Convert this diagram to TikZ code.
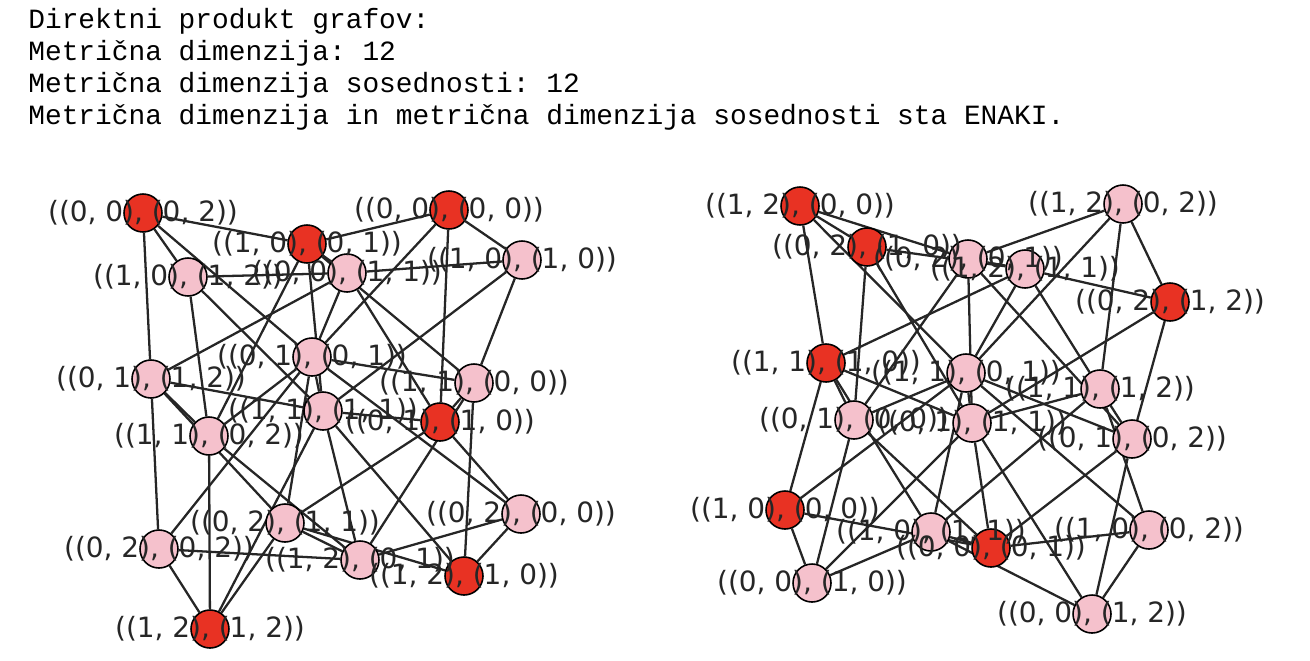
\documentclass[tikz,border=0pt]{standalone}
\usepackage{fontspec}
\setmainfont{DejaVu Sans}
\setmonofont{Liberation Mono}
\usetikzlibrary{backgrounds}

\pgfdeclarelayer{foreground}
\pgfsetlayers{background,main,foreground}

\definecolor{selred}{RGB}{232,50,35}
\definecolor{restpink}{RGB}{245,193,204}

\tikzset{
  vert/.style={circle, draw=black, line width=0.9pt, minimum size=0.76cm, inner sep=0pt},
  chosen/.style={vert, fill=selred},
  rest/.style={vert, fill=restpink},
  lbl/.style={inner sep=0pt, text=black!85, font=\fontsize{15.9}{18}\selectfont},
  link/.style={draw=black!85, line width=1.3pt},
  printline/.style={anchor=base west, inner sep=0pt, font=\ttfamily\fontsize{15.85}{18}\selectfont}
}

\begin{document}
\begin{tikzpicture}[x=0.02cm, y=-0.02cm]
\useasboundingbox (0,0) rectangle (1310,660);

% --- Izpis ---
\node[printline] (t1) at (28,28) {Direktni produkt grafov:};
\node[printline] (t2) at (28,60) {Metrična dimenzija: 12};
\node[printline] (t3) at (28,92) {Metrična dimenzija sosednosti: 12};
\node[printline] (t4) at (28,124) {Metrična dimenzija in metrična dimenzija sosednosti sta ENAKI.};

% --- Vozlisca (levo in desno) ---
\foreach \pa/\pb/\qa/\qb/\x/\y/\s in {
  0/0/0/2/143/213/chosen, 0/0/0/0/449/210/chosen, 1/0/0/1/307/244/chosen,
  1/0/1/2/188/277/rest,   0/0/1/1/347/273/rest,   1/0/1/0/522/260/rest,
  0/1/0/1/312/357/rest,   0/1/1/2/151/379/rest,   1/1/0/0/474/383/rest,
  1/1/1/1/323/411/rest,   0/1/1/0/440/422/chosen, 1/1/0/2/209/436/rest,
  0/2/0/0/521/514/rest,   0/2/1/1/285/523/rest,   0/2/0/2/159/549/rest,
  1/2/0/1/360/560/rest,   1/2/1/0/464/576/chosen, 1/2/1/2/210/629/chosen,
  1/2/0/0/800/206/chosen, 1/2/0/2/1123/204/rest,  0/2/1/0/867/247/chosen,
  0/2/0/1/968/259/rest,   1/2/1/1/1025/269/rest,  0/2/1/2/1170/302/chosen,
  1/1/1/0/826/363/chosen, 1/1/0/1/966/373/rest,   1/1/1/2/1100/389/rest,
  0/1/0/0/854/420/rest,   0/1/1/1/972/423/rest,   0/1/0/2/1132/439/rest,
  1/0/0/0/785/510/chosen, 1/0/1/1/931/532/rest,   0/0/0/1/991/548/chosen,
  1/0/0/2/1149/530/rest,  0/0/1/0/812/583/rest,   0/0/1/2/1092/614/rest}
{
  \node[\s] (v\pa\pb\qa\qb) at (\x,\y) {};
  \begin{pgfonlayer}{foreground}
    \node[lbl] (l\pa\pb\qa\qb) at (v\pa\pb\qa\qb) {((\pa, \pb), (\qa, \qb))};
  \end{pgfonlayer}
}

% --- Povezave: (u,v)--(u',v'), uu' in vv' sta povezavi ---
\begin{pgfonlayer}{background}
\foreach \ua/\un in {00/{01,10}, 02/{01,12}, 11/{01,10,12}}
  \foreach \ub in \un
    \foreach \va/\vn in {00/{01,10}, 02/{01,12}, 11/{01,10,12},
                         01/{00,02,11}, 10/{00,11}, 12/{02,11}}
      \foreach \vb in \vn
        \draw[link] (v\ua\va) -- (v\ub\vb);
\end{pgfonlayer}

\end{tikzpicture}
\end{document}
